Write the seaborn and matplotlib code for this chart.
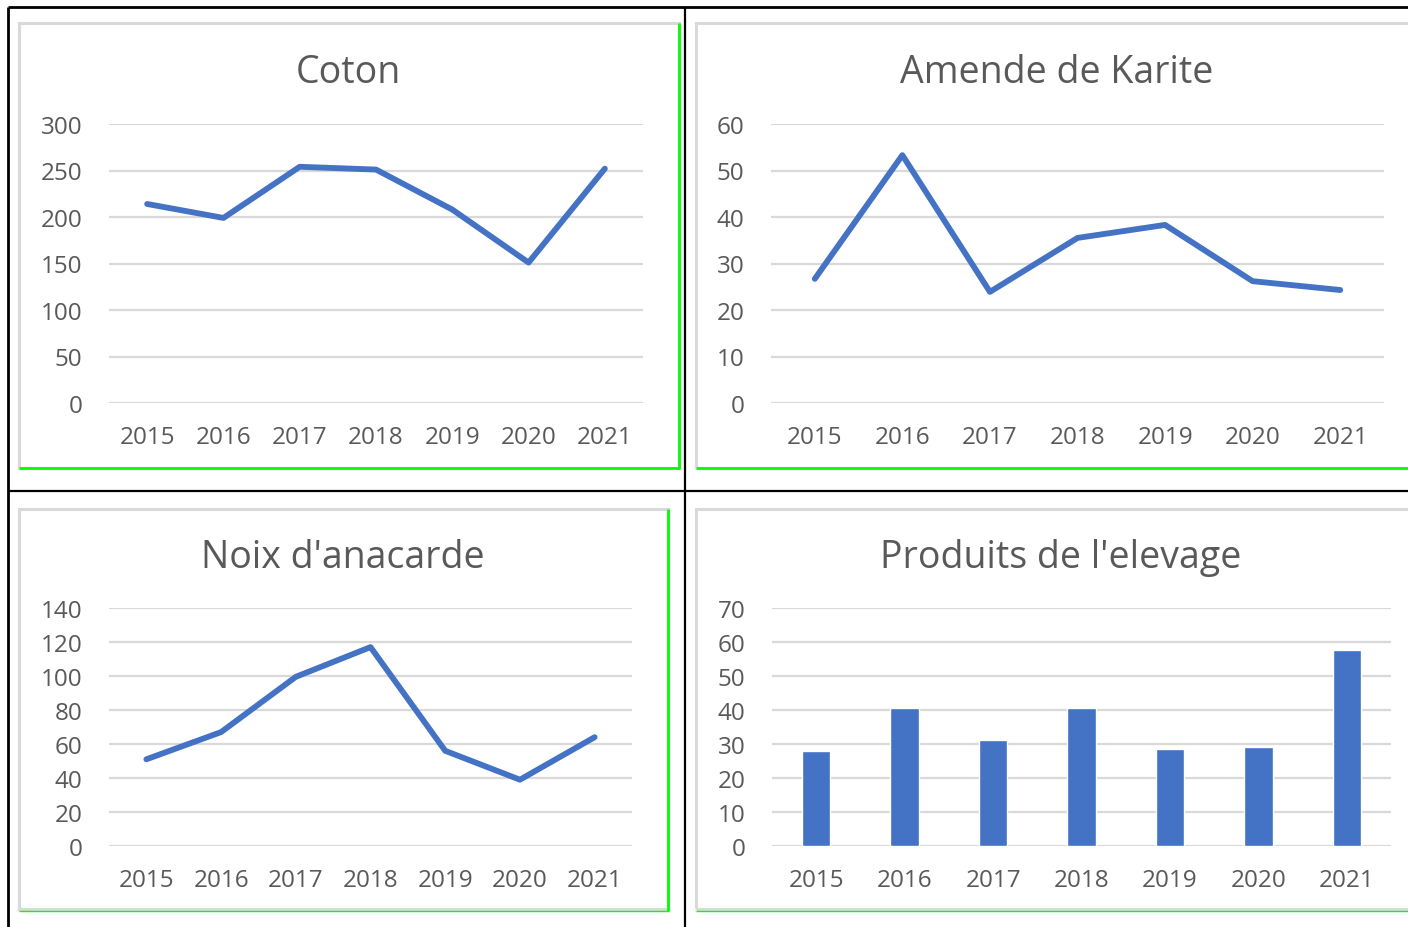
import matplotlib
matplotlib.use("Agg")
import matplotlib.pyplot as plt
from matplotlib.lines import Line2D
from matplotlib.patches import Rectangle
import seaborn as sns

years = [2015, 2016, 2017, 2018, 2019, 2020, 2021]
coton = [214, 199, 254, 251, 208, 151, 252]
karite = [26.7, 53.3, 23.9, 35.5, 38.3, 26.2, 24.3]
anacarde = [51, 67, 99.5, 117, 56, 39, 64]
elevage = [28, 40.7, 31.2, 40.7, 28.5, 29.1, 57.6]

W, H = 1408, 928
BLUE = "#4472C4"
GRID = "#d9d9d9"
TXT = "#595959"
GREEN = "#00ff00"

sns.set_theme(style="white")
plt.rcParams["font.family"] = ["Open Sans", "DejaVu Sans"]

fig = plt.figure(figsize=(W / 100, H / 100), dpi=100)


def px_rect(x0, y0, x1, y1):
	# pixel box (top-left origin) -> figure fraction rect
	return [x0 / W, (H - y1) / H, (x1 - x0) / W, (y1 - y0) / H]


def fig_line(x0, y0, x1, y1, color, lw):
	fig.add_artist(Line2D([x0 / W, x1 / W], [(H - y0) / H, (H - y1) / H],
		transform=fig.transFigure, color=color, lw=lw, solid_capstyle="butt"))


def fig_box(x0, y0, x1, y1):
	fig.add_artist(Rectangle((x0 / W, (H - y1) / H), (x1 - x0) / W, (y1 - y0) / H,
		transform=fig.transFigure, fill=False, edgecolor=GRID, lw=2.2))


def style_axes(ax, ymax, step):
	ax.set_ylim(0, ymax)
	ax.set_yticks(range(0, ymax + 1, step))
	ax.yaxis.grid(True, color=GRID, lw=1.6)
	ax.set_axisbelow(True)
	for s in ax.spines.values():
		s.set_visible(False)
	ax.tick_params(axis="both", length=0, labelsize=17.5, labelcolor=TXT)
	ax.tick_params(axis="y", pad=19)
	ax.tick_params(axis="x", pad=16)
	ax.set_xlabel("")
	ax.set_ylabel("")


# chart frames
fig_box(19, 24, 679, 469)
fig_box(696, 24, 1420, 469)
fig_box(19, 510, 668, 910)
fig_box(696, 510, 1420, 910)
fig_line(679, 24, 679, 469, GREEN, 2)
fig_line(19, 469, 680, 469, GREEN, 2)
fig_line(696, 469, 1408, 469, GREEN, 2)
fig_line(668, 510, 668, 912, GREEN, 2)
fig_line(19, 911.5, 669, 911.5, GREEN, 1)
fig_line(696, 911.5, 1408, 911.5, GREEN, 1)

# table lines
fig_line(8, 8, 1408, 8, "black", 2)
fig_line(8, 8, 8, 928, "black", 2)
fig_line(685, 8, 685, 928, "black", 1.6)
fig_line(8, 492, 1408, 492, "black", 1.6)

line_panels = [
	(coton, px_rect(109, 125, 643, 404), 300, 50, "Coton", 348, 73),
	(karite, px_rect(771, 125, 1384, 404), 60, 10, "Amende de Karite", 1057, 73),
	(anacarde, px_rect(109, 609, 632, 847), 140, 20, "Noix d'anacarde", 343, 558),
]

for vals, rect, ymax, step, title, tx, ty in line_panels:
	ax = fig.add_axes(rect)
	sns.lineplot(x=years, y=vals, ax=ax, color=BLUE, lw=4.2)
	ax.set_xlim(years[0] - 0.5, years[-1] + 0.5)
	ax.set_xticks(years)
	ax.set_xticklabels([str(y) for y in years])
	style_axes(ax, ymax, step)
	fig.text(tx / W, (H - ty) / H, title, ha="center", va="center", fontsize=27, color=TXT)

ax = fig.add_axes(px_rect(772, 609, 1391, 847))
sns.barplot(x=years, y=elevage, ax=ax, color=BLUE, width=0.32, saturation=1)
ax.set_xlim(-0.5, 6.5)
style_axes(ax, 70, 10)
fig.text(1061 / W, (H - 558) / H, "Produits de l'elevage", ha="center", va="center",
	fontsize=27, color=TXT)

plt.savefig("out.png", dpi=100)
